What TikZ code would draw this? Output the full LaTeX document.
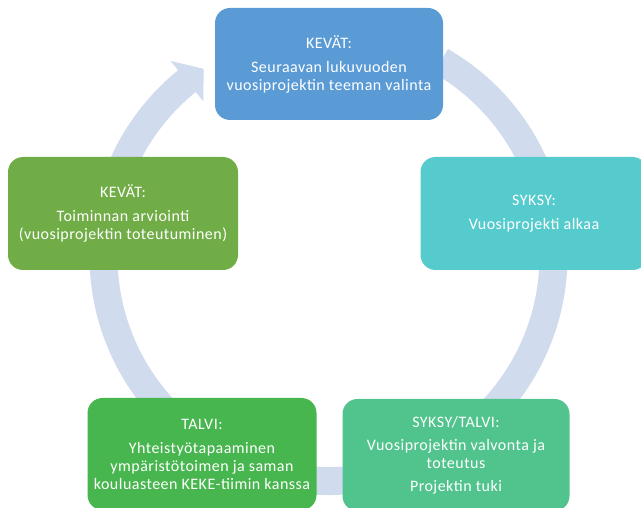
\documentclass[tikz,border=0pt]{standalone}
\usepackage{fontspec}
\usetikzlibrary{calc}
\setmainfont{Carlito}[LetterSpace=3]
\definecolor{ringc}{HTML}{D0DBEE}
\definecolor{cA}{HTML}{5B9BD5}
\definecolor{cB}{HTML}{55CBCD}
\definecolor{cC}{HTML}{50C48C}
\definecolor{cD}{HTML}{48B64E}
\definecolor{cE}{HTML}{70AD47}
\begin{document}
\begin{tikzpicture}[x=1pt,y=1pt,
  stagebox/.style={rectangle, rounded corners=15pt, minimum width=228pt, minimum height=112pt,
    inner sep=0pt, align=center, text=white,
    font=\fontsize{16}{18}\selectfont}]
\useasboundingbox (0,0) rectangle (641,507);
\clip (0,0) rectangle (641,507);
\coordinate (C) at (328.5,251);
% ring with arrowhead
\fill[ringc] ($(C)+(60:239)$) arc[start angle=60, end angle=-231, radius=239]
  -- ($(C)+(-231:251)$) -- ($(C)+(-236.3:225)$) -- ($(C)+(-231:199)$)
  -- ($(C)+(-231:211)$) arc[start angle=-231, end angle=60, radius=211] -- cycle;
% boxes
\node[stagebox, fill=cA] (top) at (329,443) {KEVÄT:\\[6pt]Seuraavan lukuvuoden\\vuosiprojektin teeman valinta};
\node[stagebox, fill=cB, minimum width=227pt, minimum height=113pt] (right) at (534,293.5) {SYKSY:\\[6pt]Vuosiprojekti alkaa};
\node[stagebox, fill=cC, minimum width=227pt] (botright) at (456,52) {SYKSY/TALVI:\\[5pt]Vuosiprojektin valvonta ja\\toteutus\\[5pt]Projektin tuki};
\node[stagebox, fill=cD, minimum width=229pt] (botleft) at (202,53) {TALVI:\\[6pt]Yhteistyötapaaminen\\ympäristötoimen ja saman\\kouluasteen KEKE-tiimin kanssa};
\node[stagebox, fill=cE, minimum width=230pt, minimum height=113pt] (left) at (123,293.5) {KEVÄT:\\[6pt]Toiminnan arviointi\\(vuosiprojektin toteutuminen)};
\end{tikzpicture}
\end{document}
